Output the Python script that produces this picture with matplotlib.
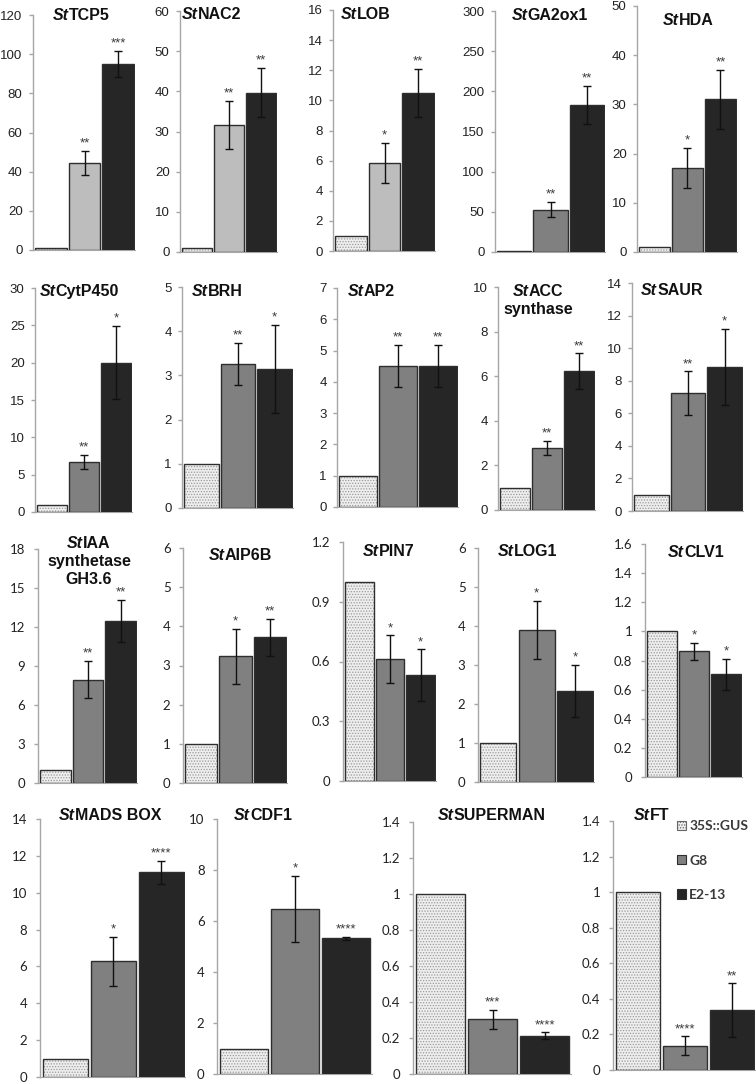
"""
qRT-PCR expression panels (relative expression vs 35S::GUS control)
"""
import matplotlib
matplotlib.use("Agg")
import matplotlib.pyplot as plt
from matplotlib.patches import Patch

# ---------------------------------------------------------------------------
# Data (control 35S::GUS normalised to 1)
# ---------------------------------------------------------------------------
genes = ["TCP5", "NAC2", "LOB", "GA2ox1", "HDA",
         "CytP450", "BRH", "AP2", "ACC\nsynthase", "SAUR",
         "IAA\nsynthetase\nGH3.6", "AIP6B", "PIN7", "LOG1", "CLV1",
         "MADS BOX", "CDF1", "SUPERMAN", "FT"]
lines = ["35S::GUS", "G8", "E2-13"]

mean_gus = [1.0] * 19
mean_g8 = [44.5, 31.6, 5.85, 52.8, 17.05,
           6.7, 3.26, 4.52, 2.77, 7.23,
           7.95, 3.23, 0.611, 3.9, 0.862,
           6.27, 6.47, 0.303, 0.137]
err_g8 = [6.0, 6.0, 1.35, 9.5, 4.1,
          0.9, 0.48, 0.67, 0.31, 1.34,
          1.44, 0.70, 0.12, 0.74, 0.058,
          1.31, 1.29, 0.052, 0.052]
mean_e213 = [95.0, 39.7, 10.47, 183.0, 31.0,
             20.0, 3.14, 4.5, 6.22, 8.85,
             12.44, 3.72, 0.531, 2.34, 0.706,
             11.1, 5.32, 0.213, 0.337]
err_e213 = [6.8, 6.2, 1.6, 24.0, 6.05,
            4.9, 1.0, 0.67, 0.80, 2.33,
            1.62, 0.47, 0.13, 0.67, 0.107,
            0.63, 0.07, 0.018, 0.15]
star_g8 = ["**", "**", "*", "**", "*",
           "**", "**", "**", "**", "**",
           "**", "*", "*", "*", "*",
           "*", "*", "***", "****"]
star_e213 = ["***", "**", "**", "**", "**",
             "*", "*", "**", "**", "*",
             "**", "**", "*", "*", "*",
             "****", "****", "****", "**"]
y_max = [120, 60, 16, 300, 50,
         30, 5, 7, 10, 14,
         18, 6, 1.2, 6, 1.6,
         14, 10, 1.4, 1.4]
y_step = [20, 10, 2, 50, 10,
          5, 1, 1, 2, 2,
          3, 1, 0.3, 1, 0.2,
          2, 2, 0.2, 0.2]

# ---------------------------------------------------------------------------
# Layout (pixel boxes: left, top, right, bottom) and title anchors
# ---------------------------------------------------------------------------
W, H = 756, 1084
boxes = [(33, 15, 135, 250), (180, 11, 277, 252), (333, 10, 435, 251), (495, 11, 605, 252), (637, 6, 737, 252),
         (35, 288, 132, 512), (182, 287, 293, 508), (337, 288, 458, 507), (498, 287, 595, 510), (632, 283, 743, 511),
         (38, 549, 137, 783), (183, 548, 287, 783), (343, 542, 436, 781), (478, 548, 594, 782), (645, 544, 742, 777),
         (40, 819, 185, 1077), (217, 819, 372, 1074), (413, 822, 571, 1074), (613, 821, 755, 1070)]
# title centre x and first-line baseline y, in pixels
title_pos = [(81, 20), (212, 19), (366, 19), (550, 20), (688, 25),
             (79, 296), (217, 296), (371, 296), (538, 296), (672, 295),
             (89, 548), (240, 560), (389, 556), (528, 556), (696, 557),
             (110, 820), (263, 820), (492, 820), (652, 820)]
TITLE_LINE = 18
light_g8 = {0, 1, 2}        # first three panels use a lighter grey for G8

AXIS = "#a6a6a6"
EDGE = "#2e2e2e"
GUS_FACE = "#eeeeee"
G8_LIGHT = "#bdbdbd"
G8 = "#808080"
E213 = "#262626"
TITLE_SIZE = 11.5

plt.rcParams.update({
    "font.family": ["Liberation Sans", "DejaVu Sans"],
    "hatch.linewidth": 0.6,
})

fig = plt.figure(figsize=(W / 100, H / 100), dpi=100)
renderer = fig.canvas.get_renderer()


def draw_title(gene, cx, base):
    first, *rest = gene.split("\n")
    t_st = fig.text(0, 0, "St", fontsize=TITLE_SIZE, fontweight="bold",
                    fontstyle="italic", color="#111111", va="baseline")
    t_name = fig.text(0, 0, first, fontsize=TITLE_SIZE, fontweight="bold",
                      color="#111111", va="baseline")
    w1 = t_st.get_window_extent(renderer).width
    w2 = t_name.get_window_extent(renderer).width
    left = cx - (w1 + w2) / 2
    t_st.set_position((left / W, 1 - base / H))
    t_name.set_position(((left + w1) / W, 1 - base / H))
    for k, line in enumerate(rest, start=1):
        fig.text(cx / W, 1 - (base + k * TITLE_LINE) / H, line, ha="center",
                 va="baseline", fontsize=TITLE_SIZE, fontweight="bold",
                 color="#111111")


for i, gene in enumerate(genes):
    l, t, r, b = boxes[i]
    ax = fig.add_axes([l / W, 1 - b / H, (r - l) / W, (b - t) / H])
    x = [0, 1, 2]
    vals = [mean_gus[i], mean_g8[i], mean_e213[i]]
    errs = [0, err_g8[i], err_e213[i]]
    g8c = G8_LIGHT if i in light_g8 else G8

    ax.bar(x[0], vals[0], width=0.94, color=GUS_FACE, edgecolor="#9a9a9a",
           hatch="......", linewidth=0, zorder=2)
    ax.bar(x, vals, width=0.94, color=["none", g8c, E213], edgecolor=EDGE,
           linewidth=1.0, zorder=3)
    ax.errorbar(x[1:], vals[1:], yerr=errs[1:], fmt="none", ecolor="#111111",
                elinewidth=1.0, capsize=2.8, capthick=1.0, zorder=4)
    for xi, v, e, s in zip(x[1:], vals[1:], errs[1:], [star_g8[i], star_e213[i]]):
        ax.annotate(s, xy=(xi, v + e), xytext=(0, 1.0), textcoords="offset points",
                    ha="center", va="bottom", fontsize=9.5, color="#3a3a3a")

    ax.set_xlim(-0.53, 2.5)
    ax.set_ylim(0, y_max[i])
    n = int(round(y_max[i] / y_step[i]))
    ticks = [round(k * y_step[i], 6) for k in range(n + 1)]
    ax.set_yticks(ticks)
    ax.set_yticklabels([f"{v:g}" for v in ticks])
    ax.set_xticks([])
    for side in ["top", "right"]:
        ax.spines[side].set_visible(False)
    ax.spines["left"].set_color(AXIS)
    ax.spines["bottom"].set_color(AXIS)
    ax.spines["left"].set_linewidth(1.0)
    upper = i < 10
    ax.tick_params(axis="y", length=3, width=1, color=AXIS,
                   pad=4.5 if upper else 6, labelcolor="#222222")
    tick_font = "Liberation Sans" if upper else "Lato"
    for lab in ax.get_yticklabels():
        lab.set_fontfamily([tick_font, "DejaVu Sans"])
        lab.set_fontsize(9.5)

    draw_title(gene, *title_pos[i])

    if i == len(genes) - 1:
        handles = [Patch(facecolor=GUS_FACE, edgecolor="#666666", hatch="......", linewidth=0.8),
                   Patch(facecolor=G8, edgecolor=EDGE, linewidth=0.8),
                   Patch(facecolor=E213, edgecolor=EDGE, linewidth=0.8)]
        ax.legend(handles, lines, loc="upper right", bbox_to_anchor=(1.0, 1.03),
                  frameon=False, handlelength=0.65, handleheight=0.65,
                  handletextpad=0.2, labelspacing=1.6, borderpad=0,
                  prop={"family": ["Lato", "DejaVu Sans"],
                        "weight": "bold", "size": 10},
                  labelcolor="#3a3a3a")

fig.savefig("out.png", dpi=100)
